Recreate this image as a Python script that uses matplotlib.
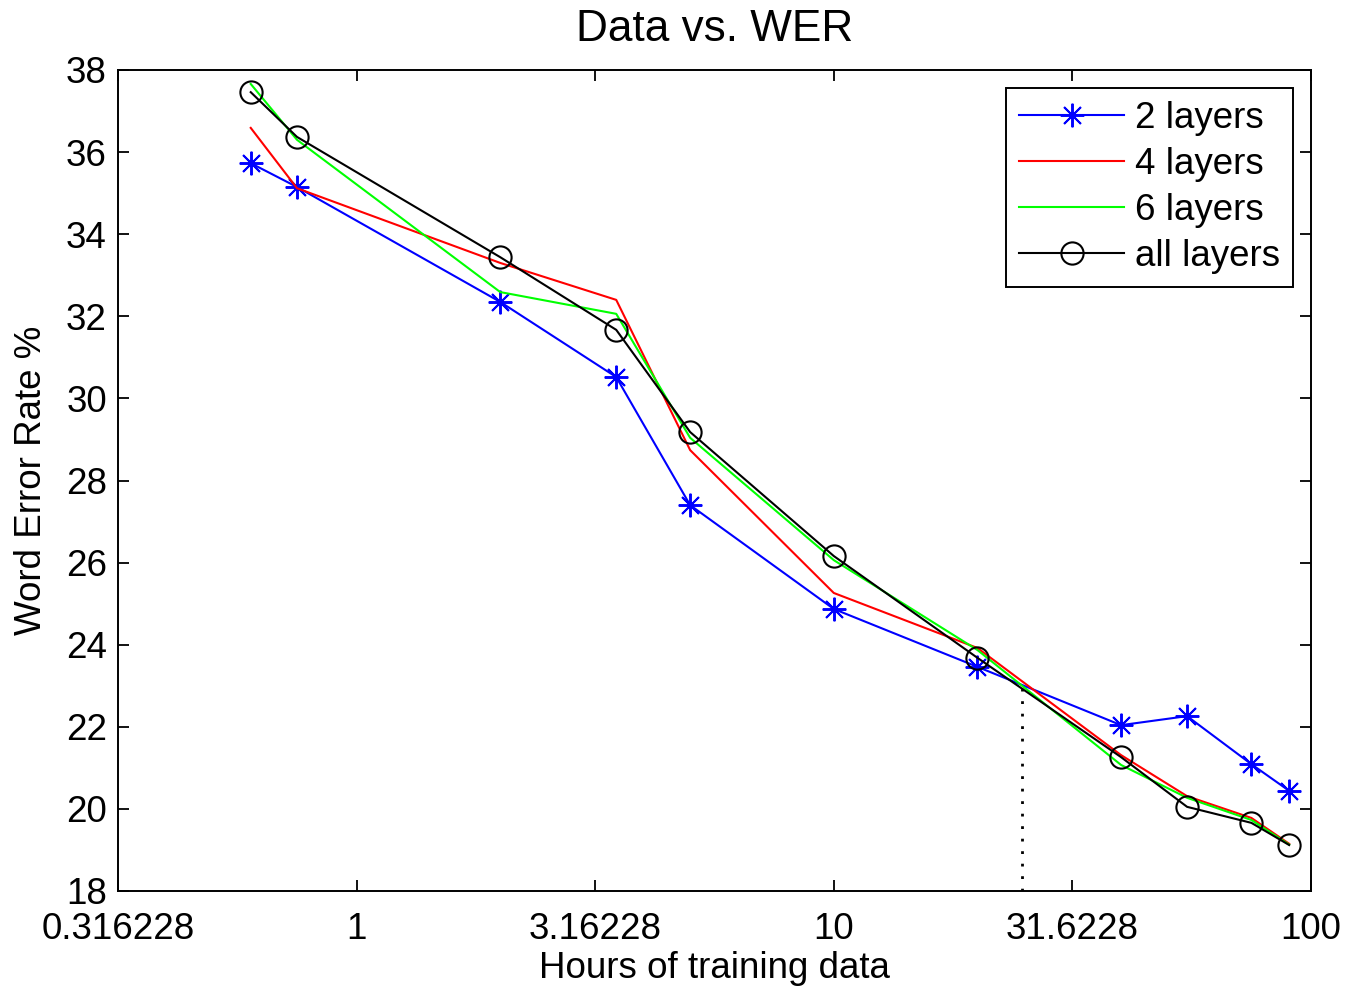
import matplotlib
matplotlib.use("Agg")
import matplotlib.pyplot as plt
from matplotlib.ticker import FixedLocator, NullLocator, FixedFormatter

plt.rcParams['font.family'] = ['Liberation Sans', 'DejaVu Sans']
plt.rcParams['font.size'] = 26.5

# hours of training data
hours = [0.6, 0.75, 2, 3.5, 5, 10, 20, 40, 55, 75, 90]

wer_2 = [35.73, 35.15, 32.35, 30.52, 27.4, 24.87, 23.46, 22.04, 22.26, 21.09, 20.44]
wer_4 = [36.59, 35.12, 33.3, 32.4, 28.74, 25.26, 23.92, 21.31, 20.31, 19.78, 19.15]
wer_6 = [37.66, 36.3, 32.59, 32.06, 29.04, 26.06, 23.87, 21.07, 20.27, 19.73, 19.13]
wer_all = [37.46, 36.37, 33.44, 31.67, 29.18, 26.16, 23.68, 21.26, 20.05, 19.66, 19.12]

# dotted marker line
cut_x = [24.8, 24.8]
cut_y = [18, 22.97]

xtick_vals = [0.316228, 1, 3.16228, 10, 31.6228, 100]
xtick_labels = ["0.316228", "1", "3.16228", "10", "31.6228", "100"]
ytick_vals = list(range(18, 39, 2))


def main():
    fig = plt.figure(figsize=(13.61, 9.92), dpi=100)
    ax = fig.add_axes([118 / 1361, 101 / 992, 1193 / 1361, 821 / 992])

    lw = 1.5
    ax.plot(hours, wer_2, color=(0, 0, 1), linewidth=lw, marker=(8, 2, 0),
            markersize=17, markeredgewidth=1.4, label="2 layers")
    ax.plot(hours, wer_4, color=(1, 0, 0), linewidth=lw, label="4 layers")
    ax.plot(hours, wer_6, color=(0, 1, 0), linewidth=lw, label="6 layers")
    ax.plot(hours, wer_all, color="black", linewidth=lw, marker="o",
            markersize=16, markerfacecolor="none", markeredgewidth=1.5,
            label="all layers")
    ax.plot(cut_x, cut_y, color="black", linestyle=(0, (1, 3.5)), linewidth=2)

    ax.set_xscale("log")
    ax.set_xlim(0.316228, 100)
    ax.set_ylim(18, 38)
    ax.xaxis.set_major_locator(FixedLocator(xtick_vals))
    ax.xaxis.set_major_formatter(FixedFormatter(xtick_labels))
    ax.xaxis.set_minor_locator(NullLocator())
    ax.set_yticks(ytick_vals)

    ax.tick_params(direction="in", length=8, width=1.3, top=True, right=True, pad=8)
    ax.tick_params(axis="x", pad=15)
    for s in ax.spines.values():
        s.set_linewidth(1.4)

    ax.set_title("Data vs. WER", pad=21)
    ax.set_xlabel("Hours of training data", labelpad=3)
    ax.set_ylabel("Word Error Rate %", labelpad=12)

    leg = ax.legend(loc="upper right", bbox_to_anchor=(0.985, 0.978),
                    fancybox=False, edgecolor="black", framealpha=1,
                    handlelength=2.85, labelspacing=0.3, borderpad=0.35,
                    handletextpad=0.3, borderaxespad=0)
    leg.get_frame().set_linewidth(1.4)

    fig.savefig("out.png", dpi=100)


if __name__ == "__main__":
    main()
